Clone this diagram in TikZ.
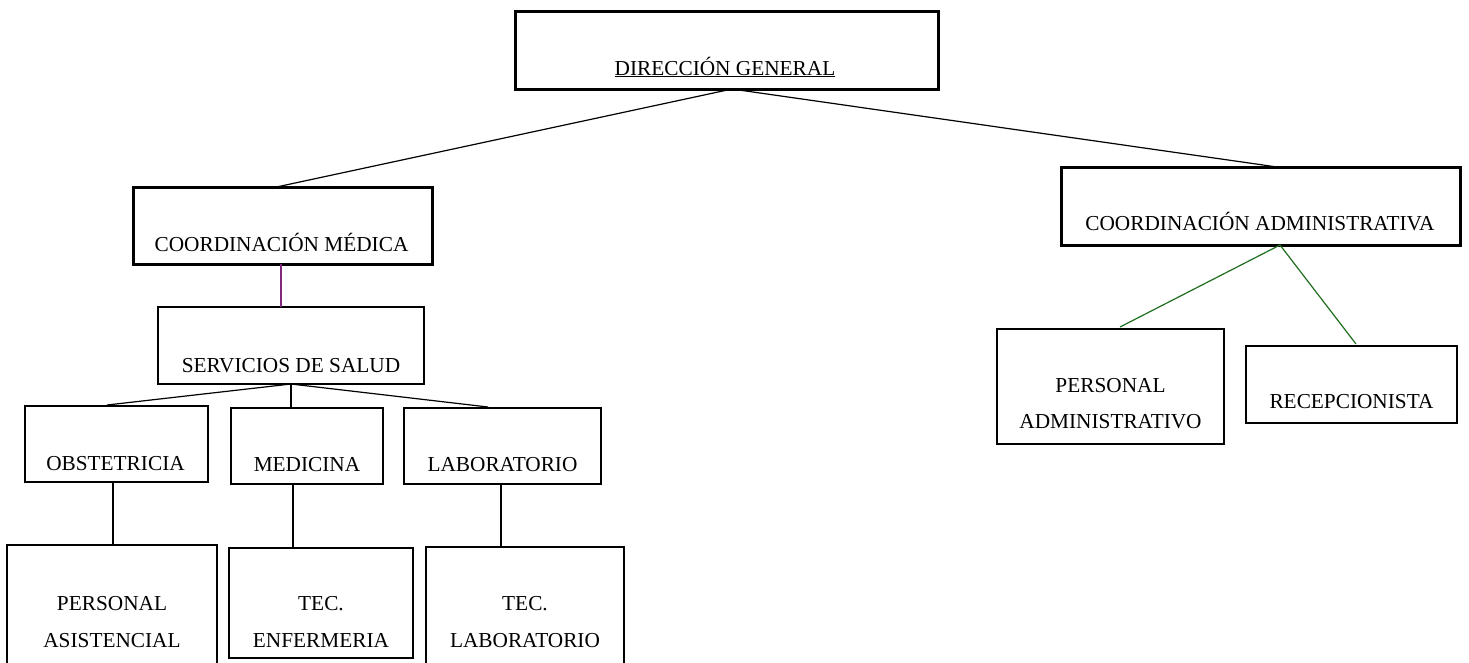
\documentclass[tikz,border=0pt]{standalone}
\usepackage{fontspec}
\setmainfont{Liberation Serif}
\usetikzlibrary{calc}
\definecolor{linkpurple}{RGB}{128,40,128}
\definecolor{linkgreen}{RGB}{30,110,30}
\tikzset{
  box/.style={draw=black, line width=2pt, rectangle, inner sep=0pt, outer sep=0pt, fill=none},
  bigbox/.style={box, line width=3pt},
  lbl/.style={anchor=base, inner sep=0pt, font=\fontsize{21.3}{25}\selectfont},
  link/.style={draw=black, line width=1.2pt},
  plink/.style={draw=linkpurple, line width=1.2pt},
  glink/.style={draw=linkgreen, line width=1.2pt}
}
\begin{document}
\begin{tikzpicture}[x=1pt,y=-1pt]
\clip (0,0) rectangle (1469,662);
\fill[white] (0,0) rectangle (1469,662);
% boxes (centre, size)
\node[bigbox, minimum width=423pt, minimum height=78pt] (dg) at (726.5,50) {};
\node[bigbox, minimum width=299pt, minimum height=77pt] (cm) at (282.5,225.5) {};
\node[bigbox, minimum width=399pt, minimum height=78pt] (ca) at (1260.5,206) {};
\node[box, minimum width=266pt, minimum height=77pt] (ss) at (291,345.5) {};
\node[box, minimum width=183pt, minimum height=76pt] (obs) at (116.5,444) {};
\node[box, minimum width=152pt, minimum height=76pt] (med) at (307,446) {};
\node[box, minimum width=197pt, minimum height=76pt] (lab) at (502.5,446) {};
\node[box, minimum width=210pt, minimum height=135pt] (pa) at (112,612.5) {};
\node[box, minimum width=184pt, minimum height=110pt] (te) at (321,603) {};
\node[box, minimum width=198pt, minimum height=133pt] (tl) at (525,613.5) {};
\node[box, minimum width=227pt, minimum height=115pt] (padm) at (1110.5,386.5) {};
\node[box, minimum width=211pt, minimum height=77pt] (rec) at (1351.5,384.5) {};
% texts
\node[lbl] (dgt) at (725,75) {\underline{DIRECCIÓN GENERAL}};
\node[lbl] (cmt) at (281.5,251) {COORDINACIÓN MÉDICA};
\node[lbl] (cat) at (1260,230) {COORDINACIÓN ADMINISTRATIVA};
\node[lbl] (sst) at (291,372) {SERVICIOS DE SALUD};
\node[lbl] (obst) at (115.5,470) {OBSTETRICIA};
\node[lbl] (medt) at (307,471) {MEDICINA};
\node[lbl] (labt) at (502.5,471) {LABORATORIO};
\node[lbl] (pat1) at (112,610) {PERSONAL};
\node[lbl] (pat2) at (112,647) {ASISTENCIAL};
\node[lbl] (tet1) at (321,610) {TEC.};
\node[lbl] (tet2) at (321,647) {ENFERMERIA};
\node[lbl] (tlt1) at (525,610) {TEC.};
\node[lbl] (tlt2) at (525,647) {LABORATORIO};
\node[lbl] (padmt1) at (1110.5,392) {PERSONAL};
\node[lbl] (padmt2) at (1110.5,428) {ADMINISTRATIVO};
\node[lbl] (rect) at (1351.5,408) {RECEPCIONISTA};
% connectors
\coordinate (dgapex) at ($(dg.south)+(5.5,0)$);
\draw[link] (dgapex) -- ($(cm.north)+(-6,0)$);
\draw[link] (dgapex) -- ($(ca.north)+(16.5,0)$);
\draw[plink] ($(cm.south)+(-1.5,0)$) -- ($(ss.north)+(-10,0)$);
\draw[link] (ss.south) -- ($(obs.north)+(-9.5,-1)$);
\draw[link] (ss.south) -- ($(med.north)+(-16,0)$);
\draw[link] (ss.south) -- ($(lab.north)+(-14.5,-1)$);
\draw[link] ($(obs.south)+(-3.5,0)$) -- ($(pa.north)+(1,0)$);
\draw[link] ($(med.south)+(-14,0)$) -- ($(te.north)+(-28,0)$);
\draw[link] ($(lab.south)+(-1.5,0)$) -- ($(tl.north)+(-24,0)$);
\coordinate (caapex) at ($(ca.south)+(19.5,0)$);
\draw[glink] (caapex) -- ($(padm.north)+(9.5,-2)$);
\draw[glink] (caapex) -- ($(rec.north)+(4.5,-2)$);
\end{tikzpicture}
\end{document}
